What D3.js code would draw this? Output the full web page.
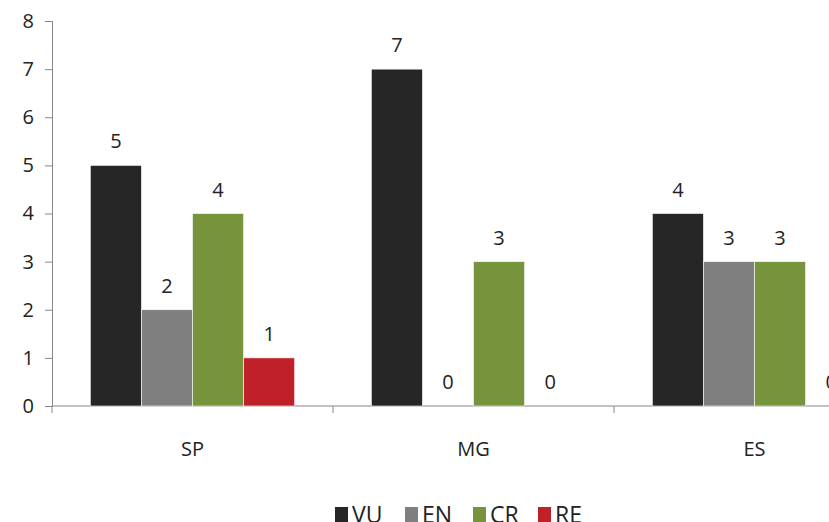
<!DOCTYPE html>
<html>
<head>
  <meta charset="utf-8">
  <script src="https://d3js.org/d3.v7.min.js"></script>
  <style>
    body { margin: 0; background: #fff; overflow: hidden; }
    svg text { font-family: "Open Sans", "Noto Sans", sans-serif; fill: #222; }
  </style>
</head>
<body>
  <div id="chart"></div>
  <script>
    // Data
    var categories = ["SP", "MG", "ES"];
    var seriesNames = ["VU", "EN", "CR", "RE"];
    var seriesColors = ["#262626", "#7f7f7f", "#77933c", "#c0202a"];
    var VU = [5, 7, 4];
    var EN = [2, 0, 3];
    var CR = [4, 3, 3];
    var RE = [1, 0, 0];
    var yTicks = [0, 1, 2, 3, 4, 5, 6, 7, 8];

    var values = [VU, EN, CR, RE];
    var width = 829, height = 522;
    var plotLeft = 52, plotTop = 21, plotBottom = 406;
    var plotRight = 895; // plot runs past the right edge of the picture

    var svg = d3.select("#chart").append("svg")
      .attr("width", width)
      .attr("height", height)
      .style("display", "block");

    var x0 = d3.scaleBand().domain(categories).range([plotLeft, plotRight]).paddingInner(0).paddingOuter(0);
    var x1 = d3.scaleBand().domain(seriesNames).range([0, x0.bandwidth()]).paddingInner(0).paddingOuter(0.75);
    var y = d3.scaleLinear().domain([0, 8]).range([plotBottom, plotTop]);

    // y axis
    var yAxis = svg.append("g")
      .attr("transform", "translate(" + plotLeft + ",0)")
      .call(d3.axisLeft(y).tickValues(yTicks).tickSize(7).tickPadding(11));
    yAxis.selectAll("line, path").attr("stroke", "#868686");
    yAxis.selectAll("text").style("font-size", "20px").attr("fill", "#222");

    // x axis
    var xAxis = svg.append("g").attr("transform", "translate(0," + plotBottom + ")");
    xAxis.append("line").attr("x1", plotLeft).attr("x2", plotRight)
      .attr("stroke", "#868686");
    xAxis.selectAll(".tk").data(categories.concat(["_end"])).enter().append("line")
      .attr("x1", function(d, i) { return plotLeft + i * x0.bandwidth(); })
      .attr("x2", function(d, i) { return plotLeft + i * x0.bandwidth(); })
      .attr("y1", 0).attr("y2", 7).attr("stroke", "#868686");
    xAxis.selectAll(".cat").data(categories).enter().append("text")
      .attr("x", function(d) { return x0(d) + x0.bandwidth() / 2; })
      .attr("y", 50)
      .attr("text-anchor", "middle")
      .style("font-size", "20px")
      .text(function(d) { return d; });

    // bars
    var groups = svg.selectAll(".grp").data(categories).enter().append("g")
      .attr("transform", function(d) { return "translate(" + x0(d) + ",0)"; });

    groups.each(function(cat, ci) {
      var g = d3.select(this);
      seriesNames.forEach(function(s, si) {
        var v = values[si][ci];
        g.append("rect")
          .attr("x", x1(s))
          .attr("y", y(v))
          .attr("width", x1.bandwidth())
          .attr("height", y(0) - y(v))
          .attr("fill", seriesColors[si])
          .attr("stroke", "#fff")
          .attr("stroke-width", 0.6);
        g.append("text")
          .attr("x", x1(s) + x1.bandwidth() / 2)
          .attr("y", y(v) - 17)
          .attr("text-anchor", "middle")
          .style("font-size", "20px")
          .text(v);
      });
    });

    // legend
    var legendX = [335, 405, 473, 538];
    var legend = svg.selectAll(".leg").data(seriesNames).enter().append("g")
      .attr("transform", function(d, i) { return "translate(" + legendX[i] + ",507)"; });
    legend.append("rect").attr("width", 13).attr("height", 15)
      .attr("fill", function(d, i) { return seriesColors[i]; });
    legend.append("text").attr("x", 17).attr("y", 16)
      .style("font-size", "23px")
      .text(function(d) { return d; });
  </script>
</body>
</html>
